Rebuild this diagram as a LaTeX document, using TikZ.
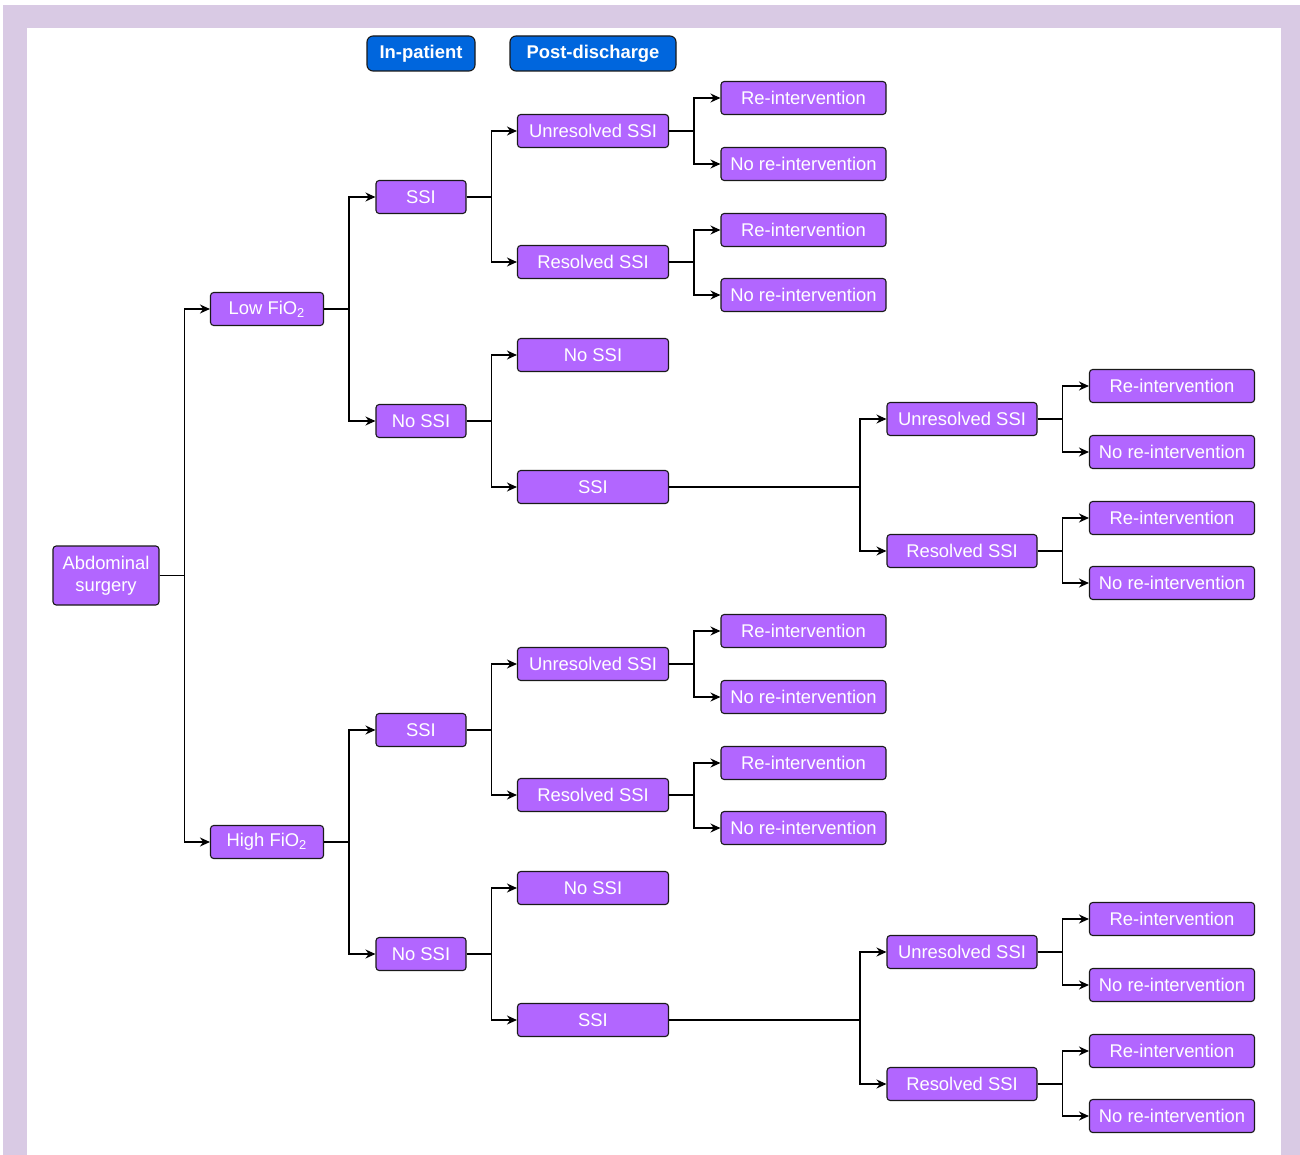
\documentclass[tikz,border=0pt]{standalone}
\usepackage{fontspec}
\setmainfont{Liberation Sans}
\usetikzlibrary{arrows.meta}
\definecolor{lav}{HTML}{D9CAE4}
\definecolor{purp}{HTML}{B266FF}
\definecolor{hblue}{HTML}{0066DD}
\definecolor{edge}{HTML}{1A1A1A}
\tikzset{
  box/.style={draw=edge, fill=purp, text=white, rounded corners=1.6pt, line width=0.55pt,
    inner sep=0pt, minimum height=16.5pt, font=\fontsize{9.2}{10.5}\selectfont, align=center},
  n1/.style={box, minimum width=56.5pt},
  n2/.style={box, minimum width=45pt},
  n3/.style={box, minimum width=75.5pt},
  n4/.style={box, minimum width=82.5pt},
  hdr/.style={draw=edge, fill=hblue, text=white, rounded corners=3pt, line width=0.55pt,
    inner sep=0pt, minimum height=17.5pt, font=\bfseries\fontsize{9.2}{10.5}\selectfont},
  conn/.style={line width=0.65pt, draw=black, -{Stealth[length=5pt,width=4.5pt]}},
}
\newcommand{\halftree}[3]{%
  \node[n1] (#1) at (267,309+#2) {#3};
  \node[n2] (#1s) at (421,197+#2) {SSI};
  \node[n2] (#1n) at (421,421+#2) {No SSI};
  \node[n3] (#1su) at (593,131+#2) {Unresolved SSI};
  \node[n3] (#1sr) at (593,262+#2) {Resolved SSI};
  \node[n3] (#1nn) at (593,355+#2) {No SSI};
  \node[n3] (#1ns) at (593,487+#2) {SSI};
  \node[n4] (#1sua) at (803.5,98+#2) {Re-intervention};
  \node[n4] (#1sub) at (803.5,164+#2) {No re-intervention};
  \node[n4] (#1sra) at (803.5,230+#2) {Re-intervention};
  \node[n4] (#1srb) at (803.5,295+#2) {No re-intervention};
  \node[n3, minimum width=75pt] (#1nsu) at (962,419+#2) {Unresolved SSI};
  \node[n3, minimum width=75pt] (#1nsr) at (962,551+#2) {Resolved SSI};
  \node[n4] (#1nsua) at (1172,386+#2) {Re-intervention};
  \node[n4] (#1nsub) at (1172,452+#2) {No re-intervention};
  \node[n4] (#1nsra) at (1172,518+#2) {Re-intervention};
  \node[n4] (#1nsrb) at (1172,583+#2) {No re-intervention};
  \draw[conn] (#1.east) -- ++(25,0) |- (#1s.west);
  \draw[conn] (#1.east) -- ++(25,0) |- (#1n.west);
  \draw[conn] (#1s.east) -- ++(25,0) |- (#1su.west);
  \draw[conn] (#1s.east) -- ++(25,0) |- (#1sr.west);
  \draw[conn] (#1n.east) -- ++(25,0) |- (#1nn.west);
  \draw[conn] (#1n.east) -- ++(25,0) |- (#1ns.west);
  \draw[conn] (#1su.east) -- ++(25,0) |- (#1sua.west);
  \draw[conn] (#1su.east) -- ++(25,0) |- (#1sub.west);
  \draw[conn] (#1sr.east) -- ++(25,0) |- (#1sra.west);
  \draw[conn] (#1sr.east) -- ++(25,0) |- (#1srb.west);
  \draw[conn] (#1ns.east) -- ++(191,0) |- (#1nsu.west);
  \draw[conn] (#1ns.east) -- ++(191,0) |- (#1nsr.west);
  \draw[conn] (#1nsu.east) -- ++(25,0) |- (#1nsua.west);
  \draw[conn] (#1nsu.east) -- ++(25,0) |- (#1nsub.west);
  \draw[conn] (#1nsr.east) -- ++(25,0) |- (#1nsra.west);
  \draw[conn] (#1nsr.east) -- ++(25,0) |- (#1nsrb.west);
}
\begin{document}
\begin{tikzpicture}[x=0.5pt, y=-0.5pt]
  \useasboundingbox (0,0) rectangle (1300,1155);
  \fill[lav] (3,5) rectangle (1300,1155);
  \fill[white] (27,28) rectangle (1281,1155);
  \node[hdr, minimum width=54pt] (hin) at (421,53.5) {In-patient};
  \node[hdr, minimum width=83pt] (hpost) at (593,53.5) {Post-discharge};
  \node[box, minimum width=53pt, minimum height=29.5pt, font=\fontsize{9.2}{11}\selectfont] (root) at (106,575.5) {Abdominal\\surgery};
  \halftree{low}{0}{Low FiO\textsubscript{2}}
  \halftree{high}{533}{High FiO\textsubscript{2}}
  \draw[conn] (root.east) -- ++(25,0) |- (low.west);
  \draw[conn] (root.east) -- ++(25,0) |- (high.west);
\end{tikzpicture}
\end{document}
